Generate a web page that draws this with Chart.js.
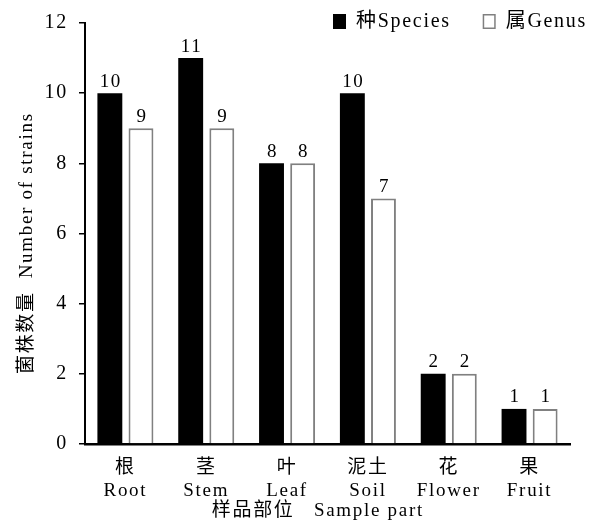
<!DOCTYPE html>
<html>
<head>
<meta charset="utf-8">
<script src="https://cdn.jsdelivr.net/npm/chart.js@4/dist/chart.umd.min.js"></script>
<style>
  html, body { margin: 0; padding: 0; background: #fff; }
  #wrap { width: 600px; height: 521px; position: relative; }
</style>
</head>
<body>
<div id="wrap"><canvas id="strainChart"></canvas></div>
<script>
// data
const categories = [['根', 'Root'], ['茎', 'Stem'], ['叶', 'Leaf'], ['泥土', 'Soil'], ['花', 'Flower'], ['果', 'Fruit']];
const speciesCounts = [10, 11, 8, 10, 2, 1];
const genusCounts = [9, 9, 8, 7, 2, 1];
const yTicks = [0, 2, 4, 6, 8, 10, 12];

const FONT = '"Liberation Serif", "Times New Roman", "Noto Sans CJK SC", serif';
const SPACING = '1.7px';

// the figure's text is loosely spaced; canvas state gets reset on resize so set it every pass
const letterSpacing = {
  id: 'letterSpacing',
  beforeUpdate(chart) { chart.ctx.letterSpacing = SPACING; },
  beforeDraw(chart) { chart.ctx.letterSpacing = SPACING; }
};

// numbers above each bar
const barLabels = {
  id: 'barLabels',
  afterDatasetsDraw(chart) {
    const ctx = chart.ctx;
    ctx.save();
    ctx.font = '19px ' + FONT;
    ctx.fillStyle = '#000';
    ctx.textAlign = 'center';
    ctx.textBaseline = 'bottom';
    chart.data.datasets.forEach((ds, i) => {
      chart.getDatasetMeta(i).data.forEach((bar, j) => {
        ctx.fillText(ds.data[j], bar.x + 1, bar.y - 2);
      });
    });
    ctx.restore();
  }
};

// legend in the top right corner, overlapping the plot top
const cornerLegend = {
  id: 'cornerLegend',
  afterDraw(chart) {
    const ctx = chart.ctx;
    ctx.save();
    ctx.font = '20px ' + FONT;
    ctx.textBaseline = 'middle';
    let x = 587;
    const yMid = 21;
    const items = chart.data.datasets.slice().reverse();
    items.forEach(ds => {
      const w = ctx.measureText(ds.label).width;
      x -= w;
      ctx.fillStyle = '#000';
      ctx.fillText(ds.label, x, yMid + 1);
      x -= 10 + 13;
      ctx.fillStyle = ds.backgroundColor;
      ctx.fillRect(x, yMid - 7, 13, 15);
      ctx.strokeStyle = ds.borderColor;
      ctx.lineWidth = 1.5;
      ctx.strokeRect(x + 0.75, yMid - 6.25, 11.5, 13.5);
      x -= 32;
    });
    ctx.restore();
  }
};

const ctx = document.getElementById('strainChart').getContext('2d');
new Chart(ctx, {
  type: 'bar',
  data: {
    labels: categories,
    datasets: [{
      label: '种Species',
      data: speciesCounts,
      backgroundColor: '#000',
      borderColor: '#000',
      borderWidth: 0,
      barPercentage: 0.8,
      categoryPercentage: 0.77
    }, {
      label: '属Genus',
      data: genusCounts,
      backgroundColor: '#fff',
      borderColor: '#808080',
      borderWidth: 2,
      barPercentage: 0.8,
      categoryPercentage: 0.77
    }]
  },
  options: {
    responsive: true,
    maintainAspectRatio: false,
    animation: false,
    layout: { padding: { top: 20, right: 30, left: 0, bottom: 0 } },
    plugins: {
      legend: { display: false },
      tooltip: { enabled: false }
    },
    scales: {
      x: {
        grid: { display: false },
        border: { color: '#000', width: 2.5 },
        ticks: {
          color: '#000',
          padding: 5,
          maxRotation: 0,
          font: { family: FONT, size: 19, lineHeight: 1.2 }
        },
        title: {
          display: true,
          text: '样品部位   Sample part   ',
          color: '#000',
          padding: { top: 0, bottom: 0 },
          font: { family: FONT, size: 19, lineHeight: 1.1 }
        },
        afterFit(scale) { scale.height = 77; }
      },
      y: {
        min: 0,
        max: 12,
        afterBuildTicks(scale) { scale.ticks = yTicks.map(v => ({ value: v })); },
        grid: { drawOnChartArea: false, drawTicks: true, tickLength: 6, color: '#000', lineWidth: 1.5 },
        border: { color: '#000', width: 2 },
        ticks: {
          color: '#000',
          padding: 11,
          font: { family: FONT, size: 20 }
        },
        title: {
          display: true,
          text: '菌株数量  Number of strains   ',
          color: '#000',
          padding: { top: 16, bottom: 0 },
          font: { family: FONT, size: 19, lineHeight: 1.2 }
        },
        afterFit(scale) { scale.width = 85; }
      }
    }
  },
  plugins: [letterSpacing, barLabels, cornerLegend]
});
</script>
</body>
</html>
